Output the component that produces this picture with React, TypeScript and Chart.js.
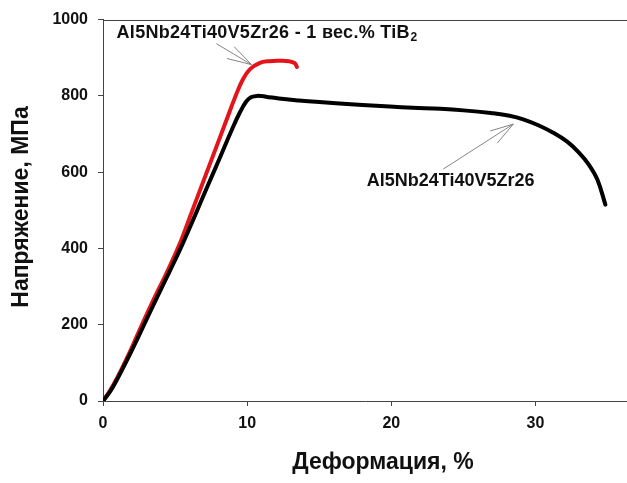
import React, { useEffect, useRef } from "react";
import { Chart, registerables } from "chart.js";

Chart.register(...registerables);

// Strain (%) / stress (MPa) for the TiB2-modified alloy (red)
const redStrain = [0, 0.5, 1, 1.5, 2, 2.7, 3.5, 4.4, 5.3, 6.1, 6.9, 7.7, 8.5, 9.2, 9.7, 10.2, 10.85, 11.5, 12.25, 12.9, 13.3, 13.45];
const redStress = [0, 28, 62, 100, 140, 200, 265, 335, 410, 490, 570, 650, 730, 800, 843, 870, 886, 891, 892, 891, 886, 876];

// Strain (%) / stress (MPa) for the base alloy (black)
const blackStrain = [0, 0.5, 1, 1.5, 2, 2.85, 3.7, 4.6, 5.5, 6.4, 7.25, 8.1, 8.9, 9.5, 9.95, 10.3, 10.7, 11.3, 12.2, 13.6, 15, 16.4, 18, 19.9, 21.5, 23.4, 25, 26.9, 28.2, 29.2, 30.2, 31.2, 32.2, 33.0, 33.7, 34.3, 34.85];
const blackStress = [0, 25, 58, 95, 133, 200, 268, 338, 410, 488, 563, 637, 708, 757, 786, 797, 800, 798, 793, 788, 784, 780, 776, 772, 769, 766, 762, 755, 748, 738, 723, 704, 680, 652, 620, 580, 515];

const xTicks = [0, 10, 20, 30];
const yTicks = [0, 200, 400, 600, 800, 1000];

const redLabel = "Al5Nb24Ti40V5Zr26 - 1 вес.% TiB";
const redLabelSub = "2";
const blackLabel = "Al5Nb24Ti40V5Zr26";
const xTitle = "Деформация, %";
const yTitle = "Напряжение, МПа";

const FONT = "'Liberation Sans', Arial, sans-serif";

// annotation anchors in data units
const redLabelAt = { x: 0.94, y: 965 };
const blackLabelAt = { x: 18.3, y: 578 };
const redArrow = { tip: [10.3, 882], lines: [[7.86, 937], [9.1, 929], [8.6, 898]] };
const blackArrow = { tip: [28.46, 726], lines: [[23.6, 608], [26.86, 708], [27.35, 676]] };

const toPts = (xs: number[], ys: number[]) => xs.map((x, i) => ({ x, y: ys[i] }));

const decorPlugin = {
  id: "decor",
  afterDraw(chart: any) {
    const { ctx, chartArea, scales } = chart;
    const sx = scales.x, sy = scales.y;
    ctx.save();
    // top frame line
    ctx.strokeStyle = "#444";
    ctx.lineWidth = 1;
    ctx.beginPath();
    ctx.moveTo(chartArea.left, Math.round(chartArea.top) + 0.5);
    ctx.lineTo(chartArea.right, Math.round(chartArea.top) + 0.5);
    ctx.stroke();

    // arrows
    ctx.strokeStyle = "#777";
    ctx.lineWidth = 0.9;
    for (const a of [redArrow, blackArrow]) {
      const tx = sx.getPixelForValue(a.tip[0]);
      const ty = sy.getPixelForValue(a.tip[1]);
      for (const p of a.lines) {
        ctx.beginPath();
        ctx.moveTo(tx, ty);
        ctx.lineTo(sx.getPixelForValue(p[0]), sy.getPixelForValue(p[1]));
        ctx.stroke();
      }
    }

    // annotation labels
    ctx.fillStyle = "#111";
    ctx.textBaseline = "middle";
    ctx.textAlign = "left";
    ctx.font = `bold 18px ${FONT}`;
    try { (ctx as any).letterSpacing = "0.3px"; } catch (e) {}
    const rx = sx.getPixelForValue(redLabelAt.x);
    const ry = sy.getPixelForValue(redLabelAt.y);
    ctx.fillText(redLabel, rx, ry);
    const w = ctx.measureText(redLabel).width;
    try { (ctx as any).letterSpacing = "0px"; } catch (e) {}
    ctx.font = `bold 12px ${FONT}`;
    ctx.fillText(redLabelSub, rx + w + 0.5, ry + 5);
    ctx.font = `bold 18px ${FONT}`;
    ctx.fillText(blackLabel, sx.getPixelForValue(blackLabelAt.x), sy.getPixelForValue(blackLabelAt.y));

    // axis titles
    ctx.font = `bold 23px ${FONT}`;
    ctx.textAlign = "center";
    ctx.fillText(xTitle, 383, 463);
    ctx.translate(22, 207);
    ctx.rotate(-Math.PI / 2);
    ctx.fillText(yTitle, 0, 0);
    ctx.restore();
  },
};

export default function App() {
  const ref = useRef<HTMLCanvasElement>(null);
  useEffect(() => {
    if (!ref.current) return;
    const lineStyle = {
      showLine: true,
      borderWidth: 4,
      pointRadius: 0,
      tension: 0.4,
      borderCapStyle: "round",
      borderJoinStyle: "round",
    };
    const chart = new Chart(ref.current, {
      type: "scatter",
      data: {
        datasets: [
          { ...lineStyle, data: toPts(blackStrain, blackStress), borderColor: "#000" },
          { ...lineStyle, data: toPts(redStrain, redStress), borderColor: "#e5141b" },
        ],
      },
      options: {
        responsive: false,
        animation: false,
        layout: { padding: { top: 18, left: 0, right: 0, bottom: 0 } },
        plugins: { legend: { display: false }, tooltip: { enabled: false } },
        scales: {
          x: {
            type: "linear",
            min: 0,
            max: 36.35,
            afterBuildTicks: (s: any) => {
              s.ticks = xTicks.map((v) => ({ value: v }));
            },
            afterFit: (s: any) => {
              s.height = 82;
            },
            ticks: {
              color: "#111",
              font: { family: FONT, size: 16, weight: "bold" },
              padding: 8,
              callback: (v: any) => String(v),
            },
            grid: { drawOnChartArea: false, drawTicks: true, tickLength: 5, color: "#444" },
            border: { display: true, color: "#444", width: 1 },
          },
          y: {
            type: "linear",
            min: 0,
            max: 1000,
            afterBuildTicks: (s: any) => {
              s.ticks = yTicks.map((v) => ({ value: v }));
            },
            afterFit: (s: any) => {
              s.width = 103;
            },
            ticks: {
              color: "#111",
              font: { family: FONT, size: 16, weight: "bold" },
              padding: 10,
              callback: (v: any) => String(v),
            },
            grid: { drawOnChartArea: false, drawTicks: true, tickLength: 5, color: "#444" },
            border: { display: true, color: "#444", width: 1 },
          },
        },
      },
      plugins: [decorPlugin],
    } as any);
    return () => chart.destroy();
  }, []);
  return (
    <div style={{ position: "absolute", left: 0, top: 0, width: 627, height: 483, background: "#fff" }}>
      <canvas ref={ref} width={627} height={483} style={{ display: "block" }} />
    </div>
  );
}
